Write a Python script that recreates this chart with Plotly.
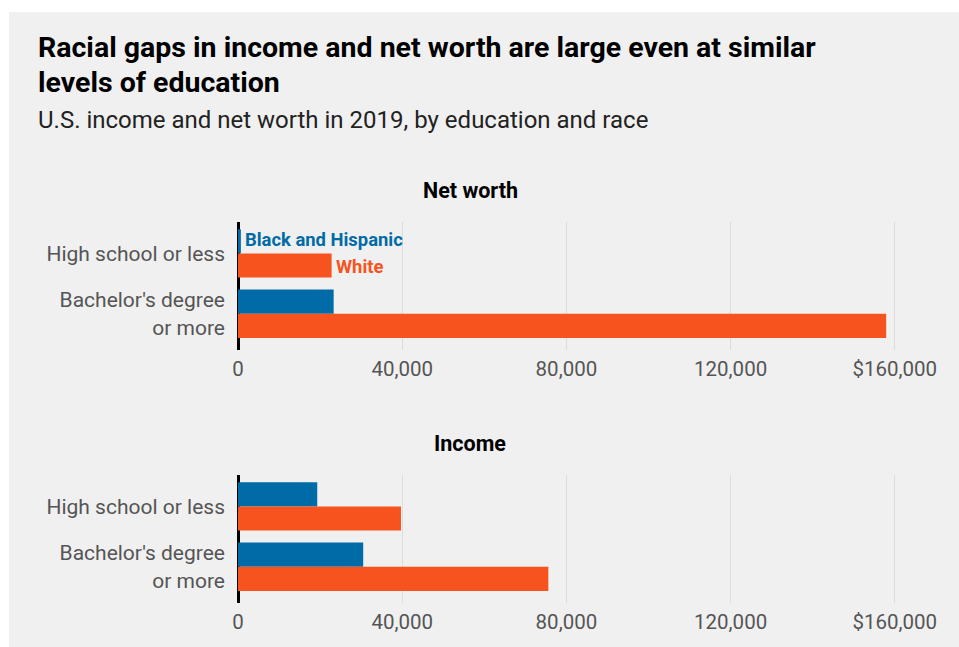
import plotly.graph_objects as go

categories = ["High school or less", "Bachelor's degree<br>or more"]
series_names = ["Black and Hispanic", "White"]
net_worth_black_hispanic = [700, 23300]
net_worth_white = [22800, 157900]
income_black_hispanic = [19300, 30500]
income_white = [39700, 75600]
tick_values = [0, 40000, 80000, 120000, 160000]
tick_labels = ["0", "40,000", "80,000", "120,000", "$160,000"]
panel_titles = ["Net worth", "Income"]

BLUE = "#006ba6"
ORANGE = "#f7531e"
BG = "#f0f0f0"
FONT = "Roboto"

W, H = 959, 647
L, R, T, B = 238, 35, 222, 44
PW = W - L - R
PH = H - T - B


def px(x):
    return (x - L) / PW


def py(y):
    return (H - B - y) / PH


fig = go.Figure()

domains = [[py(350), 1.0], [0.0, py(475)]]
datasets = [(net_worth_black_hispanic, net_worth_white), (income_black_hispanic, income_white)]

for i, (bh, wh) in enumerate(datasets):
    xa = "x" if i == 0 else "x2"
    ya = "y" if i == 0 else "y2"
    fig.add_trace(go.Bar(y=categories, x=bh, orientation="h", name=series_names[0],
                         marker=dict(color=BLUE, line=dict(width=0)), xaxis=xa, yaxis=ya,
                         showlegend=False, hoverinfo="x+y"))
    fig.add_trace(go.Bar(y=categories, x=wh, orientation="h", name=series_names[1],
                         marker=dict(color=ORANGE, line=dict(width=0)), xaxis=xa, yaxis=ya,
                         showlegend=False, hoverinfo="x+y"))

xmax = PW / 164.2 * 40000
tickfont = dict(family=FONT, size=20.5, color="#555555")
axis_common = dict(range=[0, xmax], tickvals=tick_values, ticktext=tick_labels,
                   showgrid=True, gridcolor="#dcdcdc", gridwidth=1,
                   zeroline=True, zerolinecolor="#000000", zerolinewidth=2.5,
                   showline=False, ticks="", tickfont=tickfont, ticklabelstandoff=4,
                   fixedrange=True)
yfont = dict(family=FONT, size=21, color="#555555")
fig.update_layout(
    xaxis=dict(**axis_common, anchor="y"),
    xaxis2=dict(**axis_common, anchor="y2"),
    yaxis=dict(domain=domains[0], range=[1.6, -0.52], anchor="x", showgrid=False, zeroline=False,
               ticks="", ticklabelstandoff=12, tickfont=yfont, fixedrange=True),
    yaxis2=dict(domain=domains[1], range=[1.6, -0.52], anchor="x2", showgrid=False, zeroline=False,
                ticks="", ticklabelstandoff=12, tickfont=yfont, fixedrange=True),
    barmode="group", bargap=0.2, bargroupgap=0,
    width=W, height=H,
    margin=dict(l=L, r=R, t=T, b=B, pad=0),
    paper_bgcolor="#ffffff", plot_bgcolor="rgba(0,0,0,0)",
    font=dict(family=FONT),
)

fig.add_shape(type="rect", xref="paper", yref="paper", x0=px(9), x1=px(959), y0=py(647), y1=py(12),
              fillcolor=BG, line=dict(width=0), layer="below")

anns = []
anns.append(dict(text="<b>Racial gaps in income and net worth are large even at similar</b>",
                 x=px(36), y=py(47), xanchor="left", yanchor="middle",
                 font=dict(family=FONT, size=28.5, color="#000000")))
anns.append(dict(text="<b>levels of education</b>",
                 x=px(36), y=py(82), xanchor="left", yanchor="middle",
                 font=dict(family=FONT, size=28.5, color="#000000")))
anns.append(dict(text="U.S. income and net worth in 2019, by education and race",
                 x=px(36), y=py(120), xanchor="left", yanchor="middle",
                 font=dict(family=FONT, size=24, color="#222222")))
anns.append(dict(text="<b>" + panel_titles[0] + "</b>", x=px(470), y=py(190), xanchor="center",
                 yanchor="middle", font=dict(family=FONT, size=21.5, color="#000000")))
anns.append(dict(text="<b>" + panel_titles[1] + "</b>", x=px(470), y=py(443), xanchor="center",
                 yanchor="middle", font=dict(family=FONT, size=21.5, color="#000000")))
anns.append(dict(text="<b>" + series_names[0] + "</b>", x=net_worth_black_hispanic[0], y=categories[0],
                 xref="x", yref="y", xanchor="left", yanchor="middle", xshift=2, yshift=14,
                 font=dict(family=FONT, size=18.4, color=BLUE)))
anns.append(dict(text="<b>" + series_names[1] + "</b>", x=net_worth_white[0], y=categories[0],
                 xref="x", yref="y", xanchor="left", yanchor="middle", xshift=2, yshift=-13,
                 font=dict(family=FONT, size=18.4, color=ORANGE)))
for a in anns:
    a.setdefault("xref", "paper")
    a.setdefault("yref", "paper")
    a["showarrow"] = False
    fig.add_annotation(**a)

fig.write_html("out.html")
